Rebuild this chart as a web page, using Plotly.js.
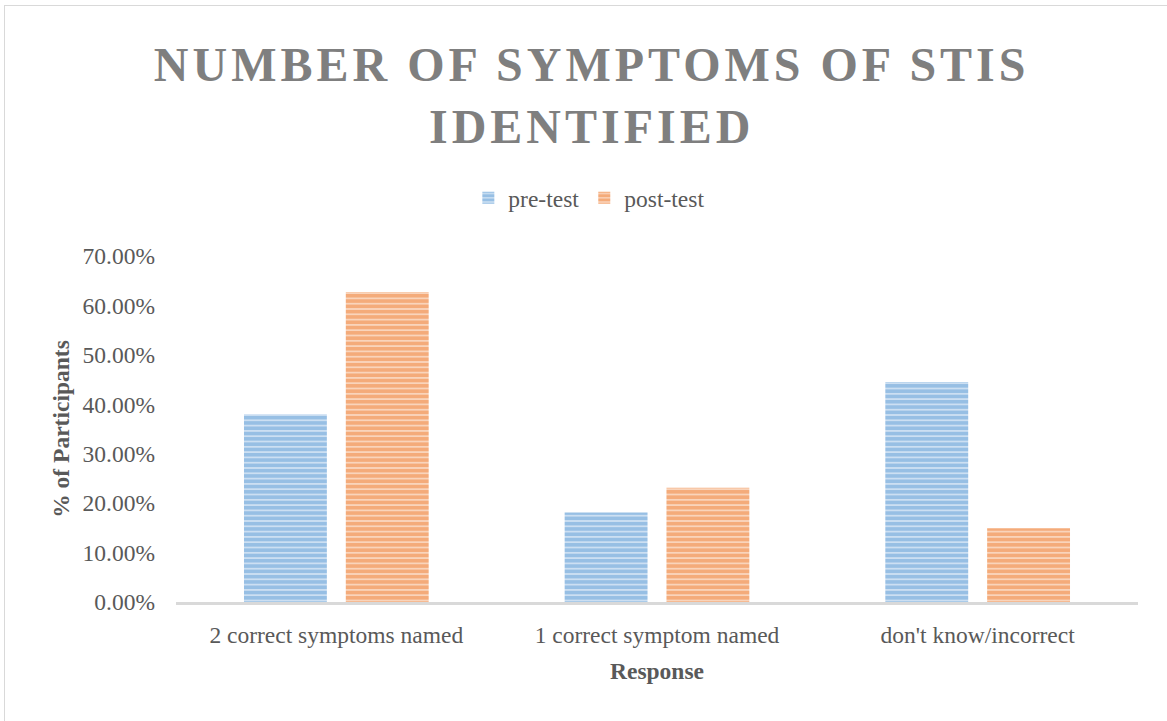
<!DOCTYPE html>
<html><head><meta charset="utf-8">
<script src="https://cdn.plot.ly/plotly-3.0.1.min.js"></script>
<style>
body{margin:0;background:#fff;overflow:hidden;}
#wrap{position:relative;width:1167px;height:721px;overflow:hidden;}
#frame{position:absolute;left:4px;top:5px;width:1200px;height:800px;border:1px solid #d9d9d9;pointer-events:none;box-sizing:border-box;}
.gtitle{letter-spacing:4px;}
</style></head>
<body><div id="wrap"><div id="chart" style="width:1167px;height:721px;"></div><div id="frame"></div></div>
<script>
const categories = ["2 correct symptoms named", "1 correct symptom named", "don't know/incorrect"];
const preTest = [0.38, 0.181, 0.445];
const postTest = [0.627, 0.231, 0.149];
const seriesNames = ["pre-test", "post-test"];
const yTicks = [0, 0.1, 0.2, 0.3, 0.4, 0.5, 0.6, 0.7];

const font = "'Liberation Serif', 'Times New Roman', serif";
const fs = 23.5;
function tr(name, vals, col, bg){
  return {type:'bar', name:name, x:categories, y:vals,
    marker:{color:bg, line:{width:0}, pattern:{shape:'-', fgcolor:col, bgcolor:bg, size:5.3, solidity:0.7, fillmode:'overlay'}},
    hoverinfo:'skip'};
}
const data = [tr(seriesNames[0], preTest, '#5B9BD5', '#d2e3f3'), tr(seriesNames[1], postTest, '#ED7D31', '#fad8c2')];
const layout = {
  width:1167, height:721,
  margin:{l:176, r:29, t:256, b:119},
  paper_bgcolor:'#fff', plot_bgcolor:'#fff',
  font:{family:font, color:'#595959', size:fs},
  title:{text:'NUMBER OF SYMPTOMS OF STIS<br>IDENTIFIED', font:{family:font, size:48, color:'#7f7f7f', weight:'bold'},
    x:0.507, xanchor:'center', y:1-81/721, yanchor:'top', yref:'container'},
  barmode:'group', bargap:0.365, bargroupgap:0.186,
  showlegend:true,
  legend:{orientation:'h', x:0.505, xanchor:'center', xref:'container', y:1-198/721, yanchor:'middle', yref:'container', font:{size:fs, color:'#595959'}, itemwidth:30},
  xaxis:{showline:true, linecolor:'#d9d9d9', linewidth:3, ticks:'', ticklabelstandoff:10, tickfont:{size:fs, color:'#595959'},
    title:{text:'Response', font:{size:fs, color:'#595959', weight:'bold'}, standoff:16}},
  yaxis:{range:[0,0.7], tickvals:yTicks, tickformat:'.2%', showgrid:false, zeroline:false, showline:false, ticks:'',
    ticklen:0, ticklabelstandoff:20, tickfont:{size:fs, color:'#595959'},
    title:{text:'% of Participants', font:{size:fs, color:'#595959', weight:'bold'}, standoff:6}}
};
Plotly.newPlot('chart', data, layout, {displayModeBar:false, staticPlot:true});
</script></body></html>
